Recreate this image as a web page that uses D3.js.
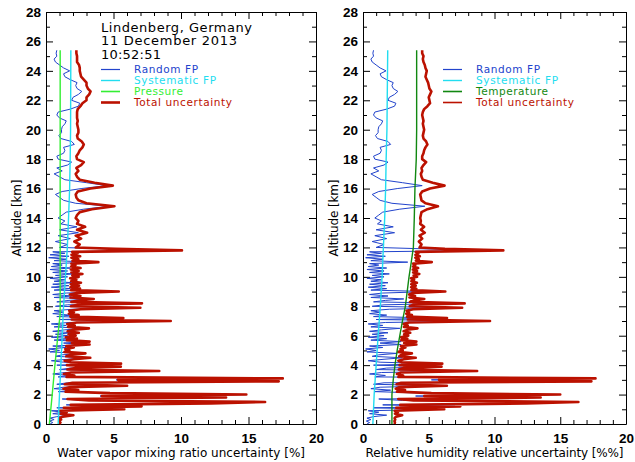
<!DOCTYPE html>
<html>
<head>
<meta charset="utf-8">
<script src="https://cdn.jsdelivr.net/npm/d3@7"></script>
<style>
body { margin: 0; background: #fff; }
text { font-family: "DejaVu Sans", sans-serif; }
</style>
</head>
<body>
<script>
//============================================================
// Data: [altitude km, uncertainty %]
var randomFP = [
[0.0,0.3],[0.1,0.5],[0.2,0.25],[0.3,0.6],[0.4,0.3],[0.5,0.8],[0.6,1.8],[0.7,0.5],[0.8,1.2],[0.9,0.4],
[1.0,5.7],[1.1,0.8],[1.2,7.0],[1.3,1.5],[1.4,12.2],[1.5,16.2],[1.6,3.0],[1.7,1.2],[1.8,13.3],[1.9,4.0],
[2.0,14.8],[2.1,4.6],[2.2,0.9],[2.3,2.1],[2.4,0.6],[2.5,1.3],[2.6,5.9],[2.7,0.8],[2.8,1.6],[2.9,17.2],
[3.0,5.2],[3.1,17.5],[3.2,0.9],[3.3,1.7],[3.4,0.5],[3.5,1.4],[3.6,8.3],[3.7,1.0],[3.8,1.8],[3.9,5.4],
[4.0,0.8],[4.1,5.4],[4.2,1.3],[4.3,0.4],[4.4,1.6],[4.5,3.0],[4.6,0.7],[4.7,1.2],[4.8,2.6],[4.9,0.3],
[5.0,1.0],[5.1,0.2],[5.2,1.5],[5.3,0.5],[5.4,2.9],[5.5,1.3],[5.6,2.9],[5.7,0.6],[5.8,1.8],[5.9,0.4],
[6.0,1.6],[6.1,0.7],[6.2,1.9],[6.3,0.5],[6.4,1.4],[6.5,2.8],[6.6,0.6],[6.7,1.5],[6.8,0.4],[6.9,1.7],
[7.0,9.1],[7.1,1.0],[7.2,5.5],[7.3,0.8],[7.4,1.8],[7.5,0.5],[7.6,1.3],[7.7,0.6],[7.8,2.0],[7.9,6.8],
[8.0,0.7],[8.1,1.6],[8.2,6.9],[8.3,0.8],[8.4,1.7],[8.5,3.1],[8.6,0.6],[8.7,1.9],[8.8,0.5],[8.9,1.5],
[9.0,5.1],[9.1,0.6],[9.2,1.8],[9.3,0.4],[9.4,1.7],[9.5,0.5],[9.6,1.9],[9.7,0.6],[9.8,1.4],[9.9,0.3],
[10.0,1.6],[10.1,0.7],[10.2,2.0],[10.3,0.5],[10.4,1.6],[10.5,0.3],[10.6,1.8],[10.7,0.4],[10.8,1.2],[10.9,0.5],
[11.0,3.4],[11.1,0.6],[11.2,1.5],[11.3,0.2],[11.4,1.7],[11.5,0.3],[11.6,1.4],[11.7,0.5],[11.8,9.9],[11.9,4.8],
[12.0,1.0],[12.2,1.6],[12.4,0.7],[12.6,1.8],[12.8,0.9],[13.0,2.4],[13.2,1.0],[13.4,2.3],[13.6,1.1],[13.8,1.4],
[14.0,0.9],[14.2,1.2],[14.4,1.5],[14.6,2.8],[14.8,4.7],[15.0,2.2],[15.2,1.3],[15.4,1.0],[15.6,0.7],[15.8,1.2],
[16.0,2.6],[16.2,4.5],[16.4,3.0],[16.6,1.4],[16.8,1.0],[17.0,0.6],[17.2,1.2],[17.4,0.8],[17.6,1.6],[17.8,1.9],
[18.0,0.9],[18.2,0.8],[18.4,1.3],[18.6,1.4],[18.8,1.3],[19.0,2.1],[19.2,1.9],[19.4,1.1],[19.6,0.95],[19.8,1.15],
[20.0,1.15],[20.2,1.2],[20.4,1.4],[20.6,1.5],[20.8,1.0],[21.0,0.8],[21.2,0.9],[21.4,1.8],[21.6,2.4],[21.8,2.5],
[22.0,1.9],[22.2,2.0],[22.4,2.4],[22.6,2.65],[22.8,2.3],[23.0,2.2],[23.2,2.3],[23.4,1.8],[23.6,1.4],[23.8,1.3],
[24.0,1.75],[24.2,1.3],[24.4,1.0],[24.6,0.7],[24.8,0.6],[25.0,0.8],[25.2,0.75],[25.4,0.8]
];

var totalWV = [
[0.0,0.99],[0.1,1.07],[0.2,0.98],[0.3,1.12],[0.4,0.99],[0.5,1.24],[0.6,2.03],[0.7,1.07],[0.8,1.53],[0.9,1.03],
[1.0,5.8],[1.1,1.32],[1.2,7.08],[1.3,1.83],[1.4,12.24],[1.5,16.23],[1.6,3.18],[1.7,1.59],[1.8,13.34],[1.9,4.14],
[2.0,14.84],[2.1,4.74],[2.2,1.45],[2.3,2.39],[2.4,1.29],[2.5,1.73],[2.6,6.01],[2.7,1.39],[2.8,1.96],[2.9,17.24],
[3.0,5.34],[3.1,17.54],[3.2,1.52],[3.3,2.1],[3.4,1.32],[3.5,1.86],[3.6,8.39],[3.7,1.58],[3.8,2.18],[3.9,5.54],
[4.0,1.55],[4.1,5.56],[4.2,1.85],[4.3,1.38],[4.4,2.08],[4.5,3.28],[4.6,1.5],[4.7,1.79],[4.8,2.92],[4.9,1.36],
[5.0,1.73],[5.1,1.43],[5.2,2.06],[5.3,1.5],[5.4,3.23],[5.5,1.92],[5.6,3.23],[5.7,1.54],[5.8,2.29],[5.9,1.47],
[6.0,2.2],[6.1,1.67],[6.2,2.43],[6.3,1.6],[6.4,2.06],[6.5,3.18],[6.6,1.63],[6.7,2.13],[6.8,1.57],[6.9,2.28],
[7.0,9.24],[7.1,1.9],[7.2,5.73],[7.3,1.8],[7.4,2.42],[7.5,1.69],[7.6,2.07],[7.7,1.72],[7.8,2.57],[7.9,6.99],
[8.0,1.84],[8.1,2.34],[8.2,7.11],[8.3,1.88],[8.4,2.41],[8.5,3.54],[8.6,1.81],[8.7,2.55],[8.8,1.77],[8.9,2.27],
[9.0,5.39],[9.1,1.86],[9.2,2.52],[9.3,1.81],[9.4,2.45],[9.5,1.83],[9.6,2.59],[9.7,1.86],[9.8,2.25],[9.9,1.79],
[10.0,2.42],[10.1,1.95],[10.2,2.7],[10.3,1.88],[10.4,2.42],[10.5,1.84],[10.6,2.56],[10.7,1.86],[10.8,2.18],[10.9,1.88],
[11.0,3.88],[11.1,1.96],[11.2,2.4],[11.3,1.88],[11.4,2.53],[11.5,1.89],[11.6,2.34],[11.7,1.94],[11.8,10.07],[11.9,5.15],
[12.0,2.2],[12.2,2.5],[12.4,2.1],[12.6,2.6],[12.8,2.2],[13.0,3.05],[13.2,2.3],[13.4,2.9],[13.6,2.3],[13.8,2.4],
[14.0,2.2],[14.2,2.3],[14.4,2.5],[14.6,3.4],[14.8,5.07],[15.0,3.0],[15.2,2.4],[15.4,2.25],[15.6,2.2],[15.8,2.35],
[16.0,3.3],[16.2,4.95],[16.4,3.6],[16.6,2.5],[16.8,2.3],[17.0,2.2],[17.2,2.4],[17.4,2.25],[17.6,2.6],[17.8,2.8],
[18.0,2.3],[18.2,2.25],[18.4,2.4],[18.6,2.5],[18.8,2.7],[19.0,2.8],[19.2,2.65],[19.4,2.35],[19.6,2.3],[19.8,2.4],
[20.0,2.4],[20.2,2.35],[20.4,2.3],[20.6,2.35],[20.8,2.3],[21.0,2.3],[21.2,2.3],[21.4,2.35],[21.6,2.55],[21.8,2.7],
[22.0,3.0],[22.2,3.0],[22.4,3.2],[22.6,3.3],[22.8,3.1],[23.0,3.0],[23.2,3.0],[23.4,2.8],[23.6,2.6],[23.8,2.55],
[24.0,2.5],[24.2,2.5],[24.4,2.45],[24.6,2.3],[24.8,2.3],[25.0,2.3],[25.2,2.25],[25.4,2.25]
];

var totalRH = [
[0.0,2.4],[0.1,2.43],[0.2,2.39],[0.3,2.45],[0.4,2.4],[0.5,2.51],[0.6,2.98],[0.7,2.43],[0.8,2.66],[0.9,2.41],
[1.0,6.18],[1.1,2.53],[1.2,7.4],[1.3,2.83],[1.4,12.43],[1.5,16.38],[1.6,3.84],[1.7,2.68],[1.8,13.51],[1.9,4.66],
[2.0,15.0],[2.1,5.2],[2.2,2.58],[2.3,3.2],[2.4,2.49],[2.5,2.75],[2.6,6.38],[2.7,2.55],[2.8,2.9],[2.9,17.37],
[3.0,5.78],[3.1,17.68],[3.2,2.69],[3.3,3.05],[3.4,2.58],[3.5,2.89],[3.6,8.68],[3.7,2.72],[3.8,3.1],[3.9,5.97],
[4.0,2.78],[4.1,6.03],[4.2,2.96],[4.3,2.69],[4.4,3.11],[4.5,4.01],[4.6,2.75],[4.7,2.92],[4.8,3.72],[4.9,2.68],
[5.0,3.02],[5.1,2.85],[5.2,3.22],[5.3,2.89],[5.4,4.06],[5.5,3.13],[5.6,4.06],[5.7,2.91],[5.8,3.37],[5.9,2.87],
[6.0,3.44],[6.1,3.13],[6.2,3.59],[6.3,3.09],[6.4,3.36],[6.5,4.14],[6.6,3.11],[6.7,3.4],[6.8,3.08],[6.9,3.49],
[7.0,9.66],[7.1,3.41],[7.2,6.39],[7.3,3.35],[7.4,3.72],[7.5,3.29],[7.6,3.51],[7.7,3.31],[7.8,3.82],[7.9,7.54],
[8.0,3.55],[8.1,3.83],[8.2,7.73],[8.3,3.57],[8.4,3.87],[8.5,4.66],[8.6,3.53],[8.7,3.96],[8.8,3.51],[8.9,3.79],
[9.0,6.26],[9.1,3.68],[9.2,4.05],[9.3,3.66],[9.4,4.01],[9.5,3.67],[9.6,4.1],[9.7,3.68],[9.8,3.89],[9.9,3.65],
[10.0,4.11],[10.1,3.85],[10.2,4.28],[10.3,3.81],[10.4,4.11],[10.5,3.79],[10.6,4.19],[10.7,3.8],[10.8,3.97],[10.9,3.81],
[11.0,5.23],[11.1,4.02],[11.2,4.25],[11.3,3.98],[11.4,4.32],[11.5,3.99],[11.6,4.21],[11.7,4.01],[11.8,10.67],[11.9,6.23],
[12.0,4.3],[12.2,4.45],[12.4,4.25],[12.6,4.5],[12.8,4.3],[13.0,4.7],[13.2,4.4],[13.4,4.65],[13.6,4.35],[13.8,4.4],
[14.0,4.35],[14.2,4.4],[14.4,4.45],[14.6,4.9],[14.8,5.7],[15.0,4.75],[15.2,4.45],[15.4,4.4],[15.6,4.35],[15.8,4.5],
[16.0,5.1],[16.2,6.2],[16.4,5.3],[16.6,4.55],[16.8,4.45],[17.0,4.4],[17.2,4.5],[17.4,4.45],[17.6,4.6],[17.8,4.8],
[18.0,4.5],[18.2,4.5],[18.4,4.6],[18.6,4.65],[18.8,4.75],[19.0,4.9],[19.2,4.8],[19.4,4.6],[19.6,4.55],[19.8,4.6],
[20.0,4.65],[20.2,4.6],[20.4,4.55],[20.6,4.6],[20.8,4.55],[21.0,4.5],[21.2,4.55],[21.4,4.65],[21.6,4.9],[21.8,5.1],
[22.0,5.05],[22.2,5.0],[22.4,5.1],[22.6,5.2],[22.8,5.05],[23.0,5.0],[23.2,4.95],[23.4,4.85],[23.6,4.75],[23.8,4.8],
[24.0,4.85],[24.2,4.75],[24.4,4.7],[24.6,4.6],[24.8,4.55],[25.0,4.6],[25.2,4.5],[25.4,4.5]
];

var systematicWV = [[0,0.9],[1,0.95],[2,1.0],[4,1.1],[6,1.2],[8,1.3],[10,1.44],[12,1.58],[14,1.67],[16,1.75],[18,1.79],[20,1.82],[25.4,1.84]];
var systematicRH = [[0,0.75],[2,0.85],[4,1.0],[6,1.15],[8,1.32],[10,1.45],[12,1.55],[14,1.65],[16,1.72],[18,1.76],[20,1.82],[25.4,1.88]];
var pressureWV = [[0,0.25],[2,0.46],[4,0.66],[6,0.88],[7.5,1.05],[10,1.05],[25.4,1.05]];
var temperatureRH = [[0,2.2],[1.5,2.2],[2,2.2],[3,2.3],[4,2.43],[5,2.6],[6,2.8],[7,3.0],[8,3.22],[9,3.36],[10,3.5],[11,3.67],[12,3.83],[14,3.9],[16,3.95],[18,4.05],[20,4.08],[22,4.08],[25.4,4.08]];

var xTicks = [0, 5, 10, 15, 20];
var yTicks = [0, 2, 4, 6, 8, 10, 12, 14, 16, 18, 20, 22, 24, 26, 28];
var titleLines = ["Lindenberg, Germany", "11 December 2013", "10:52:51"];

//============================================================
// Set up SVG
var svg = d3.select("body")
.append("svg")
.attr("width", 635)
.attr("height", 462);

var panels = [
  {left: 46, right: 316, ylabX: 21, xTitle: "Water vapor mixing ratio uncertainty [%]", xTitleW: 248,
   sys: systematicWV, third: pressureWV, thirdName: "Pressure", thirdColor: "#33ee33", total: totalWV,
   legX: 101, legTotalW: 2.6},
  {left: 363, right: 626, ylabX: 338, xTitle: "Relative humidity relative uncertainty [%%]", xTitleW: 258,
   sys: systematicRH, third: temperatureRH, thirdName: "Temperature", thirdColor: "#118811", total: totalRH,
   legX: 443, legTotalW: 1.6}
];

var plotTop = 12, plotBottom = 424;
var y = d3.scaleLinear().domain([0, 28]).range([plotBottom, plotTop]);
var xMinor = d3.range(0, 21).filter(function (v) { return v % 5; });
var yMinor = d3.range(1, 28, 2);

panels.forEach(function (p) {
  var x = d3.scaleLinear().domain([0, 20]).range([p.left, p.right]);
  var g = svg.append("g");

  // minor ticks, all four sides, pointing inward
  g.append("g").attr("transform", "translate(0," + plotBottom + ")")
  .call(d3.axisBottom(x).tickValues(xMinor).tickSize(-4).tickFormat(""));
  g.append("g").attr("transform", "translate(0," + plotTop + ")")
  .call(d3.axisTop(x).tickValues(xMinor).tickSize(-4).tickFormat(""));
  g.append("g").attr("transform", "translate(" + p.left + ",0)")
  .call(d3.axisLeft(y).tickValues(yMinor).tickSize(-4).tickFormat(""));
  g.append("g").attr("transform", "translate(" + p.right + ",0)")
  .call(d3.axisRight(y).tickValues(yMinor).tickSize(-4).tickFormat(""));
  g.selectAll(".domain").remove();

  // major ticks + labels
  var xb = g.append("g").attr("transform", "translate(0," + plotBottom + ")")
  .call(d3.axisBottom(x).tickValues(xTicks).tickSizeInner(-7).tickSizeOuter(0).tickPadding(9));
  g.append("g").attr("transform", "translate(0," + plotTop + ")")
  .call(d3.axisTop(x).tickValues(xTicks).tickSizeInner(-7).tickSizeOuter(0).tickFormat(""));
  var yl = g.append("g").attr("transform", "translate(" + p.left + ",0)")
  .call(d3.axisLeft(y).tickValues(yTicks).tickSizeInner(-7).tickSizeOuter(0).tickPadding(5));
  g.append("g").attr("transform", "translate(" + p.right + ",0)")
  .call(d3.axisRight(y).tickValues(yTicks).tickSizeInner(-7).tickSizeOuter(0).tickFormat(""));

  g.selectAll(".tick line").attr("stroke", "#000");
  g.selectAll(".domain").attr("stroke", "#000");
  [xb, yl].forEach(function (a) {
    a.attr("font-family", null).attr("font-size", null);
    a.selectAll("text")
    .style("font-family", "'Liberation Sans', Arial, sans-serif")
    .style("font-size", "13.5px")
    .style("font-weight", "bold")
    .attr("fill", "#000");
  });

  // profiles
  var line = d3.line()
  .x(function (d) { return x(d[1]); })
  .y(function (d) { return y(d[0]); });

  g.append("path").datum(randomFP).attr("d", line)
  .attr("fill", "none").attr("stroke", "#2244cc").attr("stroke-width", 1);
  g.append("path").datum(p.total).attr("d", line)
  .attr("fill", "none").attr("stroke", "#bb1100").attr("stroke-width", 2.6).attr("stroke-linejoin", "round");
  g.append("path").datum(p.sys).attr("d", line)
  .attr("fill", "none").attr("stroke", "#22ddf0").attr("stroke-width", 1.4);
  g.append("path").datum(p.third).attr("d", line)
  .attr("fill", "none").attr("stroke", p.thirdColor).attr("stroke-width", 1.4);

  // legend
  var legend = [
    {name: "Random FP", color: "#2244cc", w: 1.2, tl: 64},
    {name: "Systematic FP", color: "#22ddf0", w: 1.4, tl: 82},
    {name: p.thirdName, color: p.thirdColor, w: 1.6, tl: p.thirdName == "Pressure" ? 49 : 72},
    {name: "Total uncertainty", color: "#bb1100", w: p.legTotalW, tl: 98}
  ];
  var leg = g.selectAll(".leg").data(legend).enter().append("g")
  .attr("transform", function (d, i) { return "translate(" + p.legX + "," + (69.5 + i * 11) + ")"; });
  leg.append("line").attr("x1", 0).attr("x2", 19)
  .attr("stroke", function (d) { return d.color; })
  .attr("stroke-width", function (d) { return d.w; });
  leg.append("text").attr("x", 33).attr("y", 3.6)
  .attr("font-size", 10.5)
  .attr("fill", function (d) { return d.color; })
  .attr("textLength", function (d) { return d.tl; })
  .attr("lengthAdjust", "spacing")
  .text(function (d) { return d.name; });

  // axis titles
  g.append("text")
  .attr("x", (p.left + p.right) / 2).attr("y", 457)
  .attr("text-anchor", "middle").attr("font-size", 12)
  .attr("textLength", p.xTitleW).attr("lengthAdjust", "spacing")
  .text(p.xTitle);
  g.append("text")
  .attr("transform", "translate(" + p.ylabX + "," + ((plotTop + plotBottom) / 2) + ") rotate(-90)")
  .attr("text-anchor", "middle").attr("font-size", 12)
  .attr("textLength", 77).attr("lengthAdjust", "spacing")
  .text("Altitude [km]");
});

// station / date title
var titleW = [151, 136, 60];
svg.selectAll(".title").data(titleLines).enter().append("text")
.attr("x", 101)
.attr("y", function (d, i) { return 31.5 + i * 13.5; })
.attr("font-size", 13)
.attr("textLength", function (d, i) { return titleW[i]; })
.attr("lengthAdjust", "spacing")
.text(function (d) { return d; });
</script>
</body>
</html>
